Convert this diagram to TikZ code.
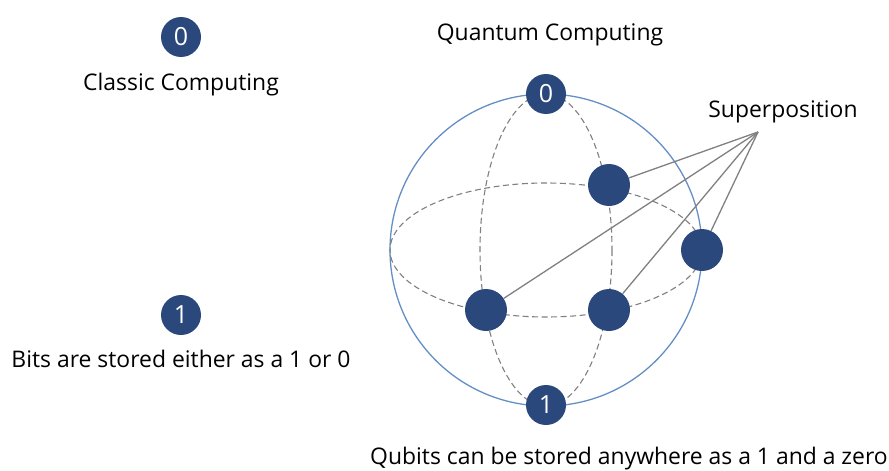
\documentclass[tikz,border=0pt]{standalone}
\usepackage{fontspec}
\setmainfont{Open Sans}
\definecolor{qblue}{RGB}{42,72,124}
\definecolor{sphereblue}{RGB}{100,143,196}
\definecolor{wiregray}{RGB}{128,128,128}

\begin{document}
\begin{tikzpicture}[x=1pt,y=-1pt,
	every node/.style={font=\fontsize{22.9}{27}\selectfont},
	bitnode/.style={circle, fill=qblue, text=white, minimum size=40pt, inner sep=0pt, font=\fontsize{25}{28}\selectfont},
	qubitdot/.style={circle, fill=qblue, minimum size=42pt, inner sep=0pt},
	gridline/.style={wiregray, line width=1.1pt, dash pattern=on 6pt off 3.5pt},
	spoke/.style={wiregray, line width=1.3pt}]
	\useasboundingbox (0,0) rectangle (889,471);
	% classic side
	\node[bitnode] (c0) at (181,37) {0};
	\node (ctitle) at (181,85) {Classic Computing};
	\node[bitnode] (c1) at (181,315) {1};
	\node (cnote) at (181,359) {Bits are stored either as a 1 or 0};
	% bloch sphere
	\draw[sphereblue, line width=1.3pt] (546,250) circle[radius=156];
	\draw[gridline] (546,250) ellipse[x radius=156, y radius=67];
	\draw[gridline] (546,250) ellipse[x radius=66, y radius=156];
	\node (qtitle) at (550,35) {Quantum Computing};
	\node[bitnode] (q0) at (546,94) {0};
	\node[bitnode] (q1) at (546,405) {1};
	\node[qubitdot] (qa) at (609,185) {};
	\node[qubitdot] (qb) at (702,250) {};
	\node[qubitdot] (qc) at (486,310) {};
	\node[qubitdot] (qd) at (609,310) {};
	\node (stitle) at (783,112) {Superposition};
	\coordinate (sp) at (758,132);
	\foreach \q in {qa,qb,qc,qd}
		\draw[spoke] (sp) -- (\q);
	\node (qnote) at (629,459) {Qubits can be stored anywhere as a 1 and a zero};
\end{tikzpicture}
\end{document}
